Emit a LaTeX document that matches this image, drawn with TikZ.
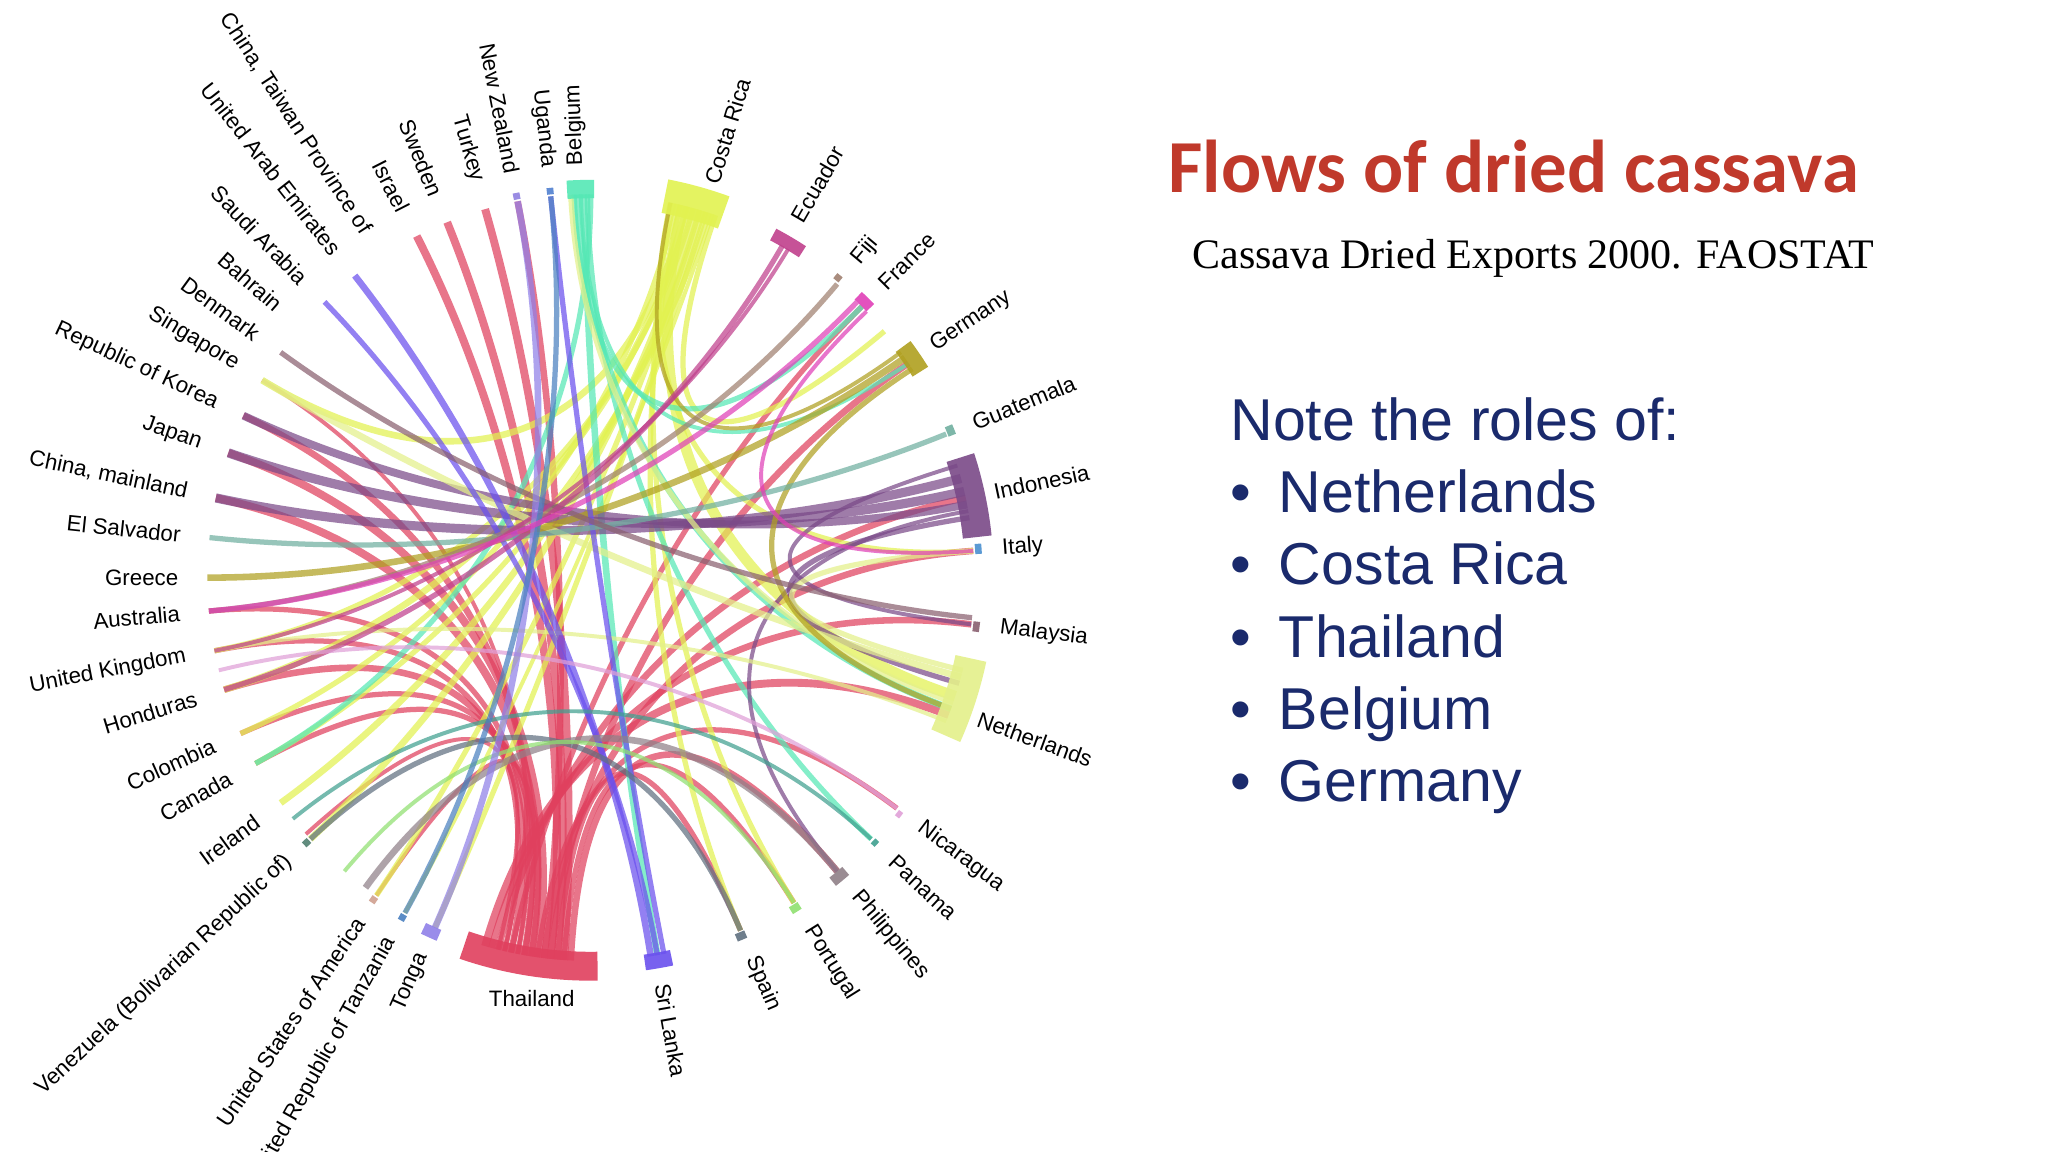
\documentclass[tikz,border=0pt]{standalone}
\usepackage{fontspec}
\setmainfont{Liberation Sans}
\newfontfamily\titlefont{Carlito}
\newfontfamily\seriffont{Liberation Serif}
\definecolor{cTh}{HTML}{E0405E}
\definecolor{cCR}{HTML}{E2F250}
\definecolor{cBe}{HTML}{55E8B5}
\definecolor{cIn}{HTML}{7A4A88}
\definecolor{cNe}{HTML}{E4F08A}
\definecolor{cGe}{HTML}{B0A020}
\definecolor{cSL}{HTML}{6A50EE}
\definecolor{cEc}{HTML}{C0408C}
\definecolor{cFi}{HTML}{A08070}
\definecolor{cFr}{HTML}{E040B8}
\definecolor{cGu}{HTML}{70B0A0}
\definecolor{cIt}{HTML}{4A90D0}
\definecolor{cMa}{HTML}{8A6070}
\definecolor{cNi}{HTML}{E0A0D8}
\definecolor{cPa}{HTML}{40A090}
\definecolor{cPh}{HTML}{908088}
\definecolor{cPo}{HTML}{90E070}
\definecolor{cSp}{HTML}{607080}
\definecolor{cTo}{HTML}{9080E8}
\definecolor{cTa}{HTML}{4A80C0}
\definecolor{cUS}{HTML}{D0A090}
\definecolor{cVe}{HTML}{508070}
\definecolor{cUg}{HTML}{5080D0}
\definecolor{cNZ}{HTML}{9080E0}
\definecolor{titlered}{HTML}{C0392B}
\definecolor{navy}{HTML}{1A2A6C}
\tikzset{lab/.style={font=\fontsize{17}{17}\selectfont, inner sep=0pt},
 chordline/.style={opacity=.72, line cap=butt},
 notetxt/.style={font=\fontsize{45}{45}\selectfont, text=navy, anchor=base west, inner sep=0pt}}
\begin{document}
\begin{tikzpicture}[x=1pt,y=1pt]
\useasboundingbox (0,0) rectangle (1560,877.5);
\fill[white] (0,0) rectangle (1560,877.5);
\begin{scope}[shift={(450,437.5)}]
\foreach \a/\b/\c/\w in {
 -94/106/cTh/6, -95/112/cTh/6, -96/117/cTh/6, -97/101/cTh/5, -98/161/cTh/6,
 -99/168/cTh/6, -100/155/cTh/5, -101/-175/cTh/4, -102/-163/cTh/5, -103/-169/cTh/4,
 -104/12/cTh/5, -105/-7/cTh/5, -106/-21/cTh/6, -93/-50/cTh/5, -94/-58/cTh/4,
 -95/-67/cTh/4, -96/34/cTh/5, -97/4/cTh/5, -98/-37/cTh/4, -99/-151/cTh/4,
 -100/-156/cTh/4, -101/149/cTh/3, -102/45/cTh/4, -103/-124/cTh/3, -104/-138/cTh/3,
 73/-144/cCR/5, 74/-137/cCR/5, 75/-163/cCR/5, 76/-18/cCR/8, 77/-156/cCR/4,
 72/-151/cCR/4, 73.5/-124/cCR/4, 74.5/-169/cCR/4, 75.5/149/cCR/5, 76.5/-67/cCR/4,
 77.5/-58/cCR/4, 72.5/-114/cCR/4, 71.5/-119/cCR/3, 78/4/cCR/4, 71/40/cCR/4,
 91/-80/cBe/5, 92/-20/cBe/5, 90.5/-43/cBe/4, 92.5/45/cBe/4, 91.5/34/cBe/3, 90/-151/cBe/4,
 13/161/cIn/7, 15/168/cIn/7, 11/155/cIn/6, 9/-16/cIn/4, 17/-7/cIn/3, 10/-50/cIn/3,
 -15/149/cNe/5, -19/93/cNe/4, -22/-169/cNe/3, -14/4/cNe/4,
 35/180/cGe/5, 33/-20/cGe/4, 36/78/cGe/3,
 -81/128/cSL/5, -79/96/cSL/4, -80/134/cSL/4,
 22/174/cGu/4, 50/-175/cFi/4, -6/144/cMa/4, 60/-163/cEc/4, 59/-169/cEc/3,
 -67/-137/cSp/4, -50/-126/cPh/5, -43/-141/cPa/3, -37/-166/cNi/3, -58/-130/cPo/3,
 -114/101/cTo/5, -119/96/cTa/4, 46/-175/cFr/4, 44/4/cFr/3}
 \draw[chordline, draw=\c, line width=\w] (\a:292) .. controls (\a:110) and (\b:110) .. (\b:292);
\foreach \a/\b/\c/\w in {
 -89/-109/cTh/22, 89.5/93.5/cBe/14, 70/79/cCR/26, 57/62/cEc/10, 50/51/cFi/5,
 44/46.5/cFr/8, 32/36.5/cGe/14, 21.5/23/cGu/6, 6/18/cIn/22, 3.5/5/cIt/5,
 -6.5/-8/cMa/5, -12/-24/cNe/24, -37/-38/cNi/4, -42.5/-43.5/cPa/4, -49/-51.5/cPh/8,
 -57.5/-59/cPo/6, -66.5/-68/cSp/6, -78/-82/cSL/12, -113/-115.5/cTo/9,
 -118.5/-119.5/cTa/5, -123.5/-124.5/cUS/5, -136.5/-137.5/cVe/5, 95.5/96.5/cUg/5, 100.5/101.5/cNZ/5}
 \draw[draw=\c, line width=\w, opacity=.9] (\a:296) arc (\a:\b:296);
\foreach \ang/\txt in {92/Belgium, 73/Costa Rica, 60/Ecuador, 50/Fiji, 45/France,
 34/Germany, 22/Guatemala, 12/Indonesia, 4/Italy, -7/Malaysia, -20/Netherlands,
 -37/Nicaragua, -43/Panama, -50/Philippines, -58/Portugal, -67/Spain, -80/Sri Lanka}
 \node[lab, rotate=\ang, anchor=west] at (\ang:314) {\txt};
\foreach \ang/\txt in {96/Uganda, 101/New Zealand, 106/Turkey, 112/Sweden, 117/Israel,
 123/{China, Taiwan Province of}, 128/United Arab Emirates, 134/Saudi Arabia, 139/Bahrain,
 144/Denmark, 149/Singapore, 155/Republic of Korea, 161/Japan, 168/{China, mainland},
 174/El Salvador, 180/Greece, 185/Australia, 191/United Kingdom, 197/Honduras,
 204/Colombia, 209/Canada, 216/Ireland, 223/Venezuela (Bolivarian Republic of),
 236/United States of America, 241/United Republic of Tanzania, 246/Tonga}
 \node[lab, rotate=\ang+180, anchor=east] at (\ang:314) {\txt};
\node[lab, anchor=north] (thai) at (-45,-314) {Thailand};
\end{scope}
\node[font=\titlefont\bfseries\fontsize{57}{57}\selectfont, text=titlered, anchor=base] (title) at (1153,731) {Flows of dried cassava};
\node[font=\seriffont\fontsize{32}{32}\selectfont, anchor=base] (sub) at (1168,673) {Cassava Dried Exports 2000. FAOSTAT};
\node[notetxt] (n0) at (937,542) {Note the roles of:};
\foreach \i/\t in {1/Netherlands,2/Costa Rica,3/Thailand,4/Belgium,5/Germany}{
 \node[notetxt] (b\i) at (937,542-\i*55) {\textbullet};
 \node[notetxt] (t\i) at (974,542-\i*55) {\t};
}
\end{tikzpicture}
\end{document}
